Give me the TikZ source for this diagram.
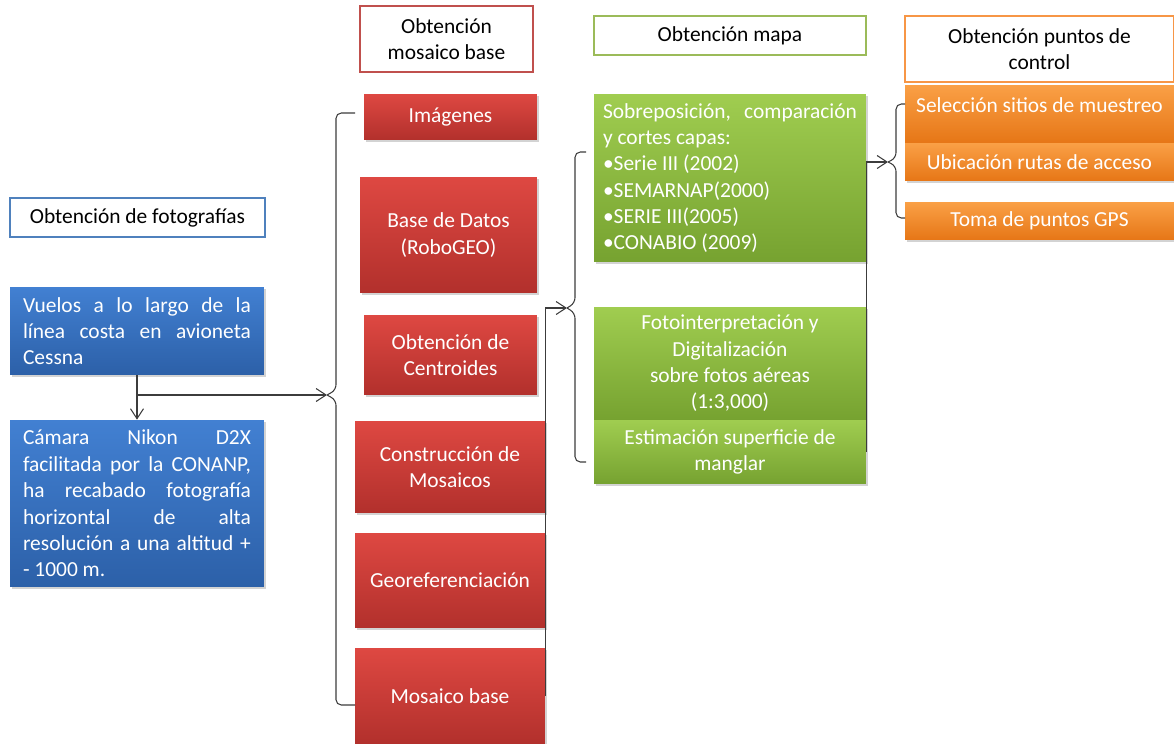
\documentclass[tikz,border=0pt]{standalone}
\usepackage{fontspec}
\setmainfont{Carlito}
\usetikzlibrary{arrows.meta,shadows}

\definecolor{azulA}{RGB}{66,128,210}
\definecolor{azulB}{RGB}{44,96,168}
\definecolor{azulT}{RGB}{79,129,189}
\definecolor{rojoA}{RGB}{222,72,66}
\definecolor{rojoB}{RGB}{178,48,44}
\definecolor{rojoT}{RGB}{192,80,77}
\definecolor{verdeA}{RGB}{160,205,80}
\definecolor{verdeB}{RGB}{118,162,48}
\definecolor{verdeT}{RGB}{155,187,89}
\definecolor{naranjaA}{RGB}{250,160,70}
\definecolor{naranjaB}{RGB}{230,118,22}
\definecolor{naranjaT}{RGB}{247,150,70}
\definecolor{linea}{RGB}{60,60,60}

\tikzset{
  caja/.style={inner sep=0pt, align=center, text=white,
    drop shadow={shadow xshift=1.2pt, shadow yshift=-1.2pt, opacity=0.35}},
  azulbox/.style={caja, top color=azulA, bottom color=azulB},
  rojobox/.style={caja, top color=rojoA, bottom color=rojoB},
  verdebox/.style={caja, top color=verdeA, bottom color=verdeB},
  naranjabox/.style={caja, top color=naranjaA, bottom color=naranjaB},
  titulo/.style={draw, line width=1.3pt, fill=white, align=center, inner sep=0pt},
  flecha/.style={-{Straight Barb[length=0.2cm,width=0.26cm]}, line width=0.6pt, draw=linea},
  llave/.style={line width=0.6pt, draw=linea, rounded corners=3pt}
}

\begin{document}
\begin{tikzpicture}[x=0.02cm, y=-0.02cm, font=\fontsize{12.2}{15}\selectfont]
\useasboundingbox (0,0) rectangle (1174,744);

% fotografias
\node[titulo, draw=azulT, minimum width=5.1cm, minimum height=0.78cm] (ftit) at (137.5,217.5) {Obtención de fotografías};
\node[azulbox, text width=4.56cm, inner xsep=0.26cm, minimum height=1.76cm, align=justify] (vuelos) at (137,331)
  {Vuelos a lo largo de la\linebreak línea costa en avioneta\linebreak Cessna};
\node[azulbox, text width=4.56cm, inner xsep=0.26cm, minimum height=3.34cm, align=justify] (camara) at (137,503.5)
  {Cámara Nikon D2X\linebreak facilitada por la CONANP,\linebreak ha recabado fotografía\linebreak horizontal de alta\linebreak resolución a una altitud +\linebreak - 1000 m.};

% mosaico base
\node[titulo, draw=rojoT, minimum width=3.46cm, minimum height=1.32cm] (mtit) at (446.5,39) {Obtención\\mosaico base};
\node[rojobox, minimum width=3.46cm, minimum height=0.92cm] (img) at (450.5,117) {Imágenes};
\node[rojobox, minimum width=3.54cm, minimum height=2.32cm] (bd) at (448.5,235) {Base de Datos\\(RoboGEO)};
\node[rojobox, minimum width=3.46cm, minimum height=1.6cm] (cent) at (450.5,355) {Obtención de\\Centroides};
\node[rojobox, minimum width=3.8cm, minimum height=1.84cm] (cons) at (450,467) {Construcción de\\Mosaicos};
\node[rojobox, minimum width=3.8cm, minimum height=1.9cm] (geo) at (450,580.5) {Georeferenciación};
\node[rojobox, minimum width=3.8cm, minimum height=1.92cm] (mos) at (450,696) {Mosaico base};

% mapa
\node[verdebox, text width=5.08cm, inner xsep=0.18cm, minimum height=3.36cm, align=justify] (sob) at (730,178)
  {\hbox to \linewidth{Sobreposición,\hfill comparación}\\y cortes capas:\\\textbullet Serie III (2002)\\\textbullet SEMARNAP(2000)\\\textbullet SERIE III(2005)\\\textbullet CONABIO (2009)};
\node[titulo, draw=verdeT, minimum width=5.44cm, minimum height=0.78cm] (gtit) at (730,35.5) {Obtención mapa};
\node[verdebox, minimum width=5.44cm, minimum height=2.26cm] (foto) at (730,363.5) {Fotointerpretación y\\Digitalización\\sobre fotos aéreas\\(1:3,000)};
\node[verdebox, minimum width=5.44cm, minimum height=1.28cm] (est) at (730,452) {Estimación superficie de\\manglar};

% puntos de control
\node[titulo, draw=naranjaT, minimum width=5.38cm, minimum height=1.32cm] (otit) at (1039.5,49) {Obtención puntos de\\control};
\node[naranjabox, minimum width=5.38cm, text height=0.54cm, text depth=0.62cm] (sel) at (1039.5,114) {Selección sitios de muestreo};
\node[naranjabox, minimum width=5.38cm, minimum height=0.76cm] (ubi) at (1039.5,162) {Ubicación rutas de acceso};
\node[naranjabox, minimum width=5.38cm, minimum height=0.76cm] (toma) at (1039.5,221) {Toma de puntos GPS};

% conectores
\coordinate (bsal) at (137,395);
\coordinate (rpunta) at (327,395);
\coordinate (vpunta) at (567,308);
\coordinate (npunta) at (888,162);

\draw[flecha] (vuelos) -- (camara);
\draw[flecha] (bsal) -- (rpunta);
\draw[llave] (355,113) -- (336,113) -- (336,390) -- (rpunta);
\draw[llave] (355,705) -- (336,705) -- (336,400) -- (rpunta);

\draw[flecha] (mos.east) |- (vpunta);
\draw[llave] (586,152) -- (575,152) -- (575,303) -- (vpunta);
\draw[llave] (586,462) -- (575,462) -- (575,313) -- (vpunta);

\draw[flecha] (est.east) |- (npunta);
\draw[llave] (905,104) -- (896,104) -- (896,158) -- (npunta);
\draw[llave] (905,218) -- (896,218) -- (896,166) -- (npunta);
\end{tikzpicture}
\end{document}
